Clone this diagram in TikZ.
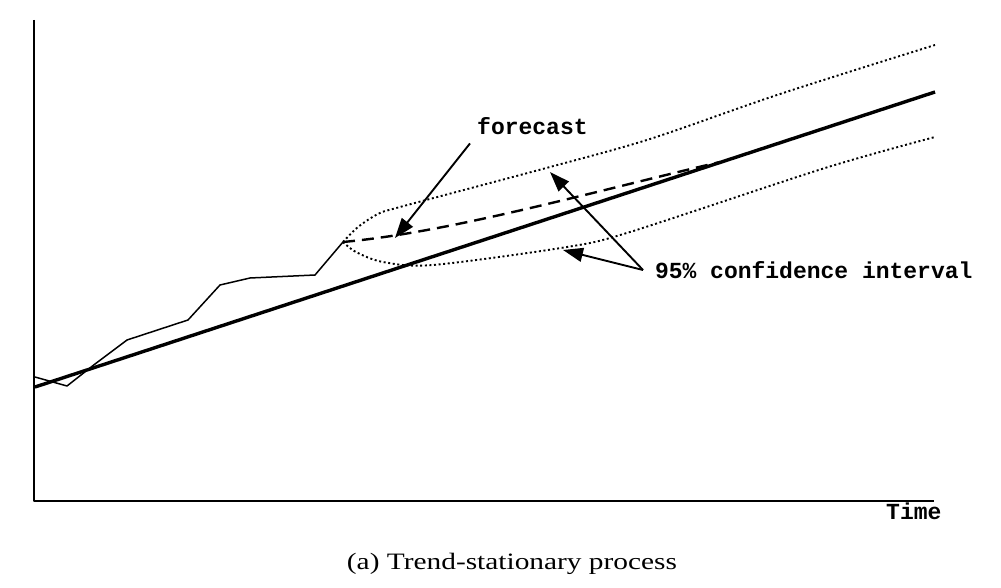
\documentclass[tikz,border=0pt]{standalone}
\usepackage{fontspec}
\setmonofont{Liberation Mono}
\newfontfamily\capfont[FakeStretch=1.25]{Liberation Serif}
\usetikzlibrary{arrows.meta}

\begin{document}
\begin{tikzpicture}[x=1pt,y=-1pt,>={Triangle[length=20pt,width=14pt]},
                    line join=round]

  \tikzstyle{courier}=[inner sep=0pt,font=\fontsize{23}{26}\selectfont\ttfamily\bfseries]
  \tikzstyle{trend}=[line width=3.4pt]
  \tikzstyle{series}=[line width=1.5pt]
  \tikzstyle{band}=[line width=1.9pt,dash pattern=on 2pt off 2.6pt]
  \tikzstyle{fcline}=[line width=2.4pt,dash pattern=on 12pt off 7pt]
  \tikzstyle{pointer}=[->,line width=1.9pt]

  \useasboundingbox (0,0) rectangle (1001,588);

  \draw[line width=2pt] (34,20) -- (34,501) -- (934,501);

  \draw[trend] (35,387) -- (935,92);
  \draw[series] (35,377) -- (67,386) -- (95,364) -- (127,340) -- (188,320)
                -- (220,285) -- (250,278) -- (315,275) -- (343,242);

  \draw[band] plot[smooth] coordinates {(343,242) (358,227) (378,214) (400,207)
                (550,167) (650,139) (780,94) (935,45)};
  \draw[band] plot[smooth] coordinates {(343,242) (356,252) (383,262) (433,265)
                (567,247) (630,232) (825,168) (935,137)};
  \draw[fcline] (343,242) .. controls (450,232) and (580,195) .. (720,162);

  \node[courier,anchor=base west]          (fc)   at (477,135) {forecast};
  \node[courier,anchor=west,outer sep=12pt] (ci)   at (643,270) {95\% confidence interval};
  \node[courier,anchor=base west]          (time) at (886,519) {Time};
  \node[anchor=base,inner sep=0pt,font=\capfont\fontsize{23.5}{26}\selectfont]
       (cap) at (512,569) {(a) Trend-stationary process};

  \coordinate (fcTip) at (395,238);
  \coordinate (upTip) at (550,172);
  \coordinate (loTip) at (563,250);

  \draw[pointer] ([shift={(-7,8)}]fc.south west) -- (fcTip);
  \draw[pointer] (ci.west) -- (upTip);
  \draw[pointer] (ci.west) -- (loTip);
\end{tikzpicture}
\end{document}
